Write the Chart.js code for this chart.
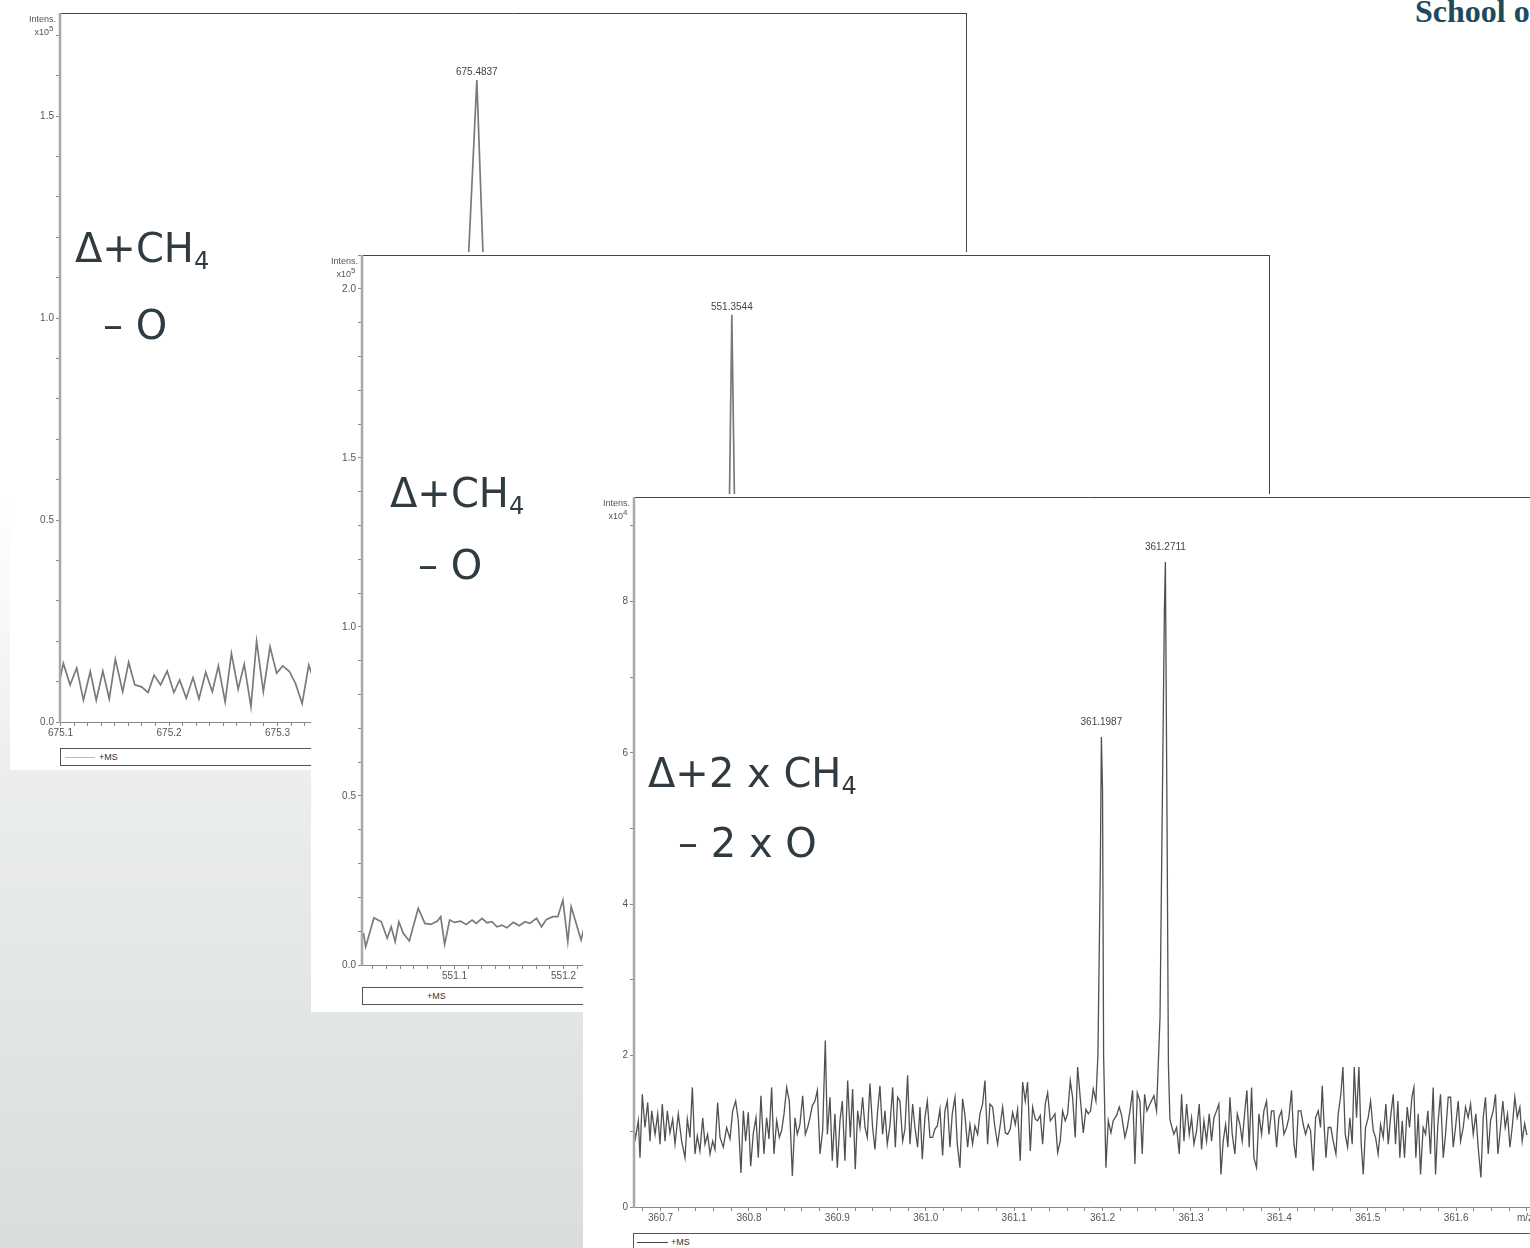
<!DOCTYPE html>
<html>
<head>
<meta charset="utf-8">
<script src="https://cdn.jsdelivr.net/npm/chart.js@4.4.0/dist/chart.umd.min.js"></script>
<style>
html, body { margin: 0; padding: 0; width: 1530px; height: 1248px; overflow: hidden; }
body {
  position: relative;
  background: linear-gradient(180deg, #ffffff 0%, #ffffff 40%, #eceeee 62%, #dadddd 100%);
  font-family: "Liberation Sans", Arial, sans-serif;
}
.card { position: absolute; background: #fff; overflow: hidden; }
.card canvas { position: absolute; left: 0; top: 0; }
.note {
  position: absolute; font-family: "DejaVu Sans", sans-serif; font-size: 40px;
  line-height: 1; color: #2f3b41; white-space: nowrap;
}
.note sub { font-size: 60%; vertical-align: baseline; position: relative; top: 0.3em; }
.leg {
  position: absolute; height: 16px; border: 1px solid #555; background: #fff;
  font-size: 9px; line-height: 16px; color: #333;
}
.leg i { position: absolute; top: 8px; height: 0; border-top: 1px solid #444; }
.leg span { position: absolute; top: 0; }
.mz { position: absolute; font-size: 10px; color: #555; }
.school {
  position: absolute; left: 1415px; top: -5px; font-family: "Liberation Serif", serif;
  font-weight: bold; font-size: 32px; line-height: 1; color: #1d4b5c; white-space: nowrap;
}
</style>
</head>
<body>

<div class="school">School of</div>

<div class="card" id="card1" style="left:10px;top:10px;width:958px;height:760px;">
  <canvas id="c1" width="958" height="760"></canvas>
  <div class="note" style="left:65px;top:218px;">&Delta;+CH<sub>4</sub></div>
  <div class="note" style="left:93px;top:295px;">&ndash; O</div>
  <div class="leg" style="left:50px;top:738px;width:900px;"><i style="left:4px;width:30px;border-color:#bbb;"></i><span style="left:38px;">+MS</span></div>
</div>

<div class="card" id="card2" style="left:311px;top:252px;width:960px;height:760px;">
  <canvas id="c2" width="960" height="760"></canvas>
  <div class="note" style="left:79px;top:221px;">&Delta;+CH<sub>4</sub></div>
  <div class="note" style="left:107px;top:293px;">&ndash; O</div>
  <div class="leg" style="left:51px;top:735px;width:900px;"><span style="left:64px;">+MS</span></div>
</div>

<div class="card" id="card3" style="left:583px;top:494px;width:963px;height:770px;">
  <canvas id="c3" width="963" height="770"></canvas>
  <div class="note" style="left:65px;top:259px;">&Delta;+2 x CH<sub>4</sub></div>
  <div class="note" style="left:95px;top:329px;">&ndash; 2 x O</div>
  <div class="mz" style="left:934px;top:718px;">m/z</div>
  <div class="leg" style="left:50px;top:739px;width:950px;"><i style="left:3px;width:31px;"></i><span style="left:37px;">+MS</span></div>
</div>

<script>
// spectrum 1: m/z 675 region, intensity x10^5
const p1Mz = [675.0980, 675.1026, 675.1088, 675.1149, 675.1211, 675.1274, 675.1329, 675.1390, 675.1449, 675.1505,
  675.1573, 675.1628, 675.1684, 675.1746, 675.1807, 675.1862, 675.1922, 675.1983, 675.2045, 675.2098,
  675.2159, 675.2221, 675.2276, 675.2338, 675.2399, 675.2455, 675.2517, 675.2575, 675.2637, 675.2693,
  675.2755, 675.2807, 675.2869, 675.2931, 675.2992, 675.3048, 675.3110, 675.3165, 675.3227, 675.3288,
  675.3350, 675.3410, 675.3470, 675.3530, 675.3590, 675.3650, 675.3710, 675.3770, 675.3830, 675.3890,
  675.3950, 675.4010, 675.4070, 675.4130, 675.4190, 675.4250, 675.4310, 675.4370, 675.4430, 675.4490,
  675.4550, 675.4610, 675.4660, 675.4700, 675.4760, 675.4837, 675.4895, 675.4960, 675.5020, 675.5080,
  675.5140, 675.5200, 675.5260, 675.5320, 675.5380, 675.5440];
const p1Int = [0.087, 0.145, 0.092, 0.134, 0.054, 0.125, 0.054, 0.126, 0.057, 0.155,
  0.075, 0.148, 0.092, 0.087, 0.073, 0.116, 0.092, 0.126, 0.073, 0.104,
  0.059, 0.110, 0.057, 0.123, 0.075, 0.139, 0.050, 0.170, 0.081, 0.143,
  0.038, 0.200, 0.075, 0.186, 0.121, 0.139, 0.125, 0.096, 0.046, 0.141,
  0.09, 0.15, 0.07, 0.13, 0.10, 0.16, 0.06, 0.12, 0.09, 0.14,
  0.08, 0.13, 0.11, 0.07, 0.15, 0.09, 0.12, 0.06, 0.14, 0.10,
  0.12, 0.08, 0.11, 0.15, 1.15, 1.589, 1.15, 0.14, 0.10, 0.13,
  0.08, 0.12, 0.09, 0.14, 0.07, 0.11];
const p1Peaks = [675.4837];

// spectrum 2: m/z 551 region, intensity x10^5
const p2Mz = [551.0164, 551.0185, 551.0261, 551.0328, 551.0382, 551.0419, 551.0455, 551.0489, 551.0530, 551.0585,
  551.0667, 551.0728, 551.0782, 551.0843, 551.0873, 551.0909, 551.0955, 551.1000, 551.1055, 551.1107,
  551.1161, 551.1200, 551.1252, 551.1297, 551.1343, 551.1389, 551.1434, 551.1479, 551.1539, 551.1594,
  551.1646, 551.1691, 551.1752, 551.1798, 551.1843, 551.1903, 551.1948, 551.1994, 551.2039, 551.2070,
  551.2116, 551.2161, 551.2206, 551.2260, 551.2320, 551.2380, 551.2440, 551.2500, 551.2560, 551.2620,
  551.2680, 551.2740, 551.2800, 551.2860, 551.2920, 551.2980, 551.3040, 551.3100, 551.3160, 551.3220,
  551.3280, 551.3340, 551.3400, 551.3460, 551.3480, 551.3515, 551.3544, 551.3580, 551.3640, 551.3700,
  551.3760, 551.3820, 551.3880];
const p2Int = [0.094, 0.054, 0.140, 0.128, 0.079, 0.113, 0.069, 0.128, 0.094, 0.071,
  0.168, 0.123, 0.120, 0.130, 0.143, 0.061, 0.133, 0.126, 0.130, 0.120,
  0.133, 0.123, 0.138, 0.125, 0.128, 0.113, 0.118, 0.110, 0.126, 0.116,
  0.128, 0.123, 0.138, 0.113, 0.135, 0.143, 0.143, 0.192, 0.069, 0.172,
  0.123, 0.074, 0.133, 0.10, 0.15, 0.08, 0.13, 0.11, 0.16, 0.07,
  0.12, 0.10, 0.14, 0.09, 0.13, 0.11, 0.08, 0.15, 0.10, 0.12,
  0.07, 0.13, 0.11, 0.09, 0.15, 1.20, 1.923, 1.10, 0.14, 0.10,
  0.12, 0.08, 0.13];
const p2Peaks = [551.3544];

// spectrum 3: m/z 361 region, intensity x10^4
const p3Mz = [360.6700, 360.6711, 360.6749, 360.6768, 360.6794, 360.6824, 360.6855, 360.6881, 360.6900, 360.6938,
  360.6968, 360.6994, 360.7020, 360.7051, 360.7077, 360.7107, 360.7137, 360.7164, 360.7201, 360.7239,
  360.7277, 360.7303, 360.7333, 360.7360, 360.7390, 360.7416, 360.7446, 360.7477, 360.7503, 360.7533,
  360.7560, 360.7590, 360.7616, 360.7646, 360.7673, 360.7710, 360.7748, 360.7786, 360.7816, 360.7850,
  360.7880, 360.7910, 360.7937, 360.7963, 360.7993, 360.8020, 360.8050, 360.8080, 360.8106, 360.8136,
  360.8170, 360.8200, 360.8227, 360.8257, 360.8283, 360.8314, 360.8344, 360.8370, 360.8397, 360.8427,
  360.8457, 360.8491, 360.8521, 360.8547, 360.8577, 360.8608, 360.8638, 360.8664, 360.8691, 360.8717,
  360.8747, 360.8774, 360.8804, 360.8834, 360.8864, 360.8887, 360.8917, 360.8943, 360.8973, 360.9000,
  360.9030, 360.9056, 360.9086, 360.9117, 360.9147, 360.9173, 360.9203, 360.9230, 360.9256, 360.9286,
  360.9313, 360.9339, 360.9369, 360.9399, 360.9426, 360.9456, 360.9482, 360.9512, 360.9539, 360.9565,
  360.9595, 360.9626, 360.9656, 360.9682, 360.9708, 360.9739, 360.9765, 360.9795, 360.9822, 360.9852,
  360.9878, 360.9908, 360.9935, 360.9961, 360.9991, 361.0018, 361.0048, 361.0078, 361.0104, 361.0131,
  361.0161, 361.0191, 361.0217, 361.0244, 361.0274, 361.0300, 361.0331, 361.0357, 361.0387, 361.0417,
  361.0444, 361.0474, 361.0500, 361.0530, 361.0557, 361.0587, 361.0613, 361.0643, 361.0670, 361.0700,
  361.0726, 361.0757, 361.0783, 361.0813, 361.0839, 361.0870, 361.0900, 361.0926, 361.0956, 361.0983,
  361.1013, 361.1039, 361.1069, 361.1096, 361.1126, 361.1152, 361.1183, 361.1209, 361.1239, 361.1265,
  361.1296, 361.1322, 361.1352, 361.1379, 361.1409, 361.1435, 361.1462, 361.1492, 361.1522, 361.1548,
  361.1578, 361.1605, 361.1635, 361.1661, 361.1691, 361.1718,
  361.1782, 361.1812, 361.1839, 361.1865, 361.1895, 361.1925, 361.1948, 361.1975, 361.1987, 361.2000,
  361.2012, 361.2038, 361.2065, 361.2095, 361.2121, 361.2159, 361.2189, 361.2216, 361.2253, 361.2280,
  361.2310, 361.2340, 361.2366, 361.2393, 361.2423, 361.2449, 361.2476, 361.2502, 361.2536, 361.2581,
  361.2611, 361.2650, 361.2700, 361.2711, 361.2730, 361.2745, 361.2762, 361.2781, 361.2807, 361.2838,
  361.2868, 361.2894, 361.2921, 361.2951, 361.2981, 361.3007, 361.3034, 361.3064, 361.3094, 361.3120,
  361.3147, 361.3177, 361.3207, 361.3233, 361.3260, 361.3290, 361.3316, 361.3339, 361.3365, 361.3392,
  361.3418, 361.3441, 361.3467, 361.3497, 361.3524, 361.3554, 361.3580, 361.3610, 361.3633, 361.3659,
  361.3686, 361.3712, 361.3742, 361.3769, 361.3799, 361.3825, 361.3855, 361.3882, 361.3912, 361.3938,
  361.3969, 361.3995, 361.4025, 361.4052, 361.4082, 361.4108, 361.4138, 361.4165, 361.4187, 361.4214,
  361.4244, 361.4270, 361.4297, 361.4327, 361.4353, 361.4383, 361.4410, 361.4440, 361.4466, 361.4485,
  361.4504, 361.4527, 361.4553, 361.4583, 361.4609, 361.4640, 361.4666, 361.4696, 361.4719, 361.4745,
  361.4772, 361.4798, 361.4824, 361.4847, 361.4873, 361.4900, 361.4926, 361.4949, 361.4975, 361.5005,
  361.5032, 361.5062, 361.5088, 361.5118, 361.5145, 361.5175, 361.5205, 361.5232, 361.5258, 361.5288,
  361.5314, 361.5341, 361.5363, 361.5390, 361.5416, 361.5446, 361.5473, 361.5499, 361.5522, 361.5544,
  361.5571, 361.5597, 361.5627, 361.5654, 361.5680, 361.5710, 361.5740, 361.5767, 361.5793, 361.5823,
  361.5854, 361.5880, 361.5910, 361.5937, 361.5967, 361.5993, 361.6023, 361.6050, 361.6080, 361.6106,
  361.6136, 361.6163, 361.6193, 361.6223, 361.6249, 361.6280, 361.6306, 361.6332, 361.6363, 361.6389,
  361.6419, 361.6445, 361.6472, 361.6502, 361.6528, 361.6555, 361.6581, 361.6608, 361.6634, 361.6664,
  361.6691, 361.6721, 361.6747, 361.6775, 361.6800];
const p3Int = [0.98, 0.87, 1.14, 0.65, 1.49, 1.05, 1.38, 0.87, 1.27, 0.96,
  1.23, 0.83, 1.36, 0.87, 1.27, 0.98, 1.16, 0.83, 1.23, 0.87,
  0.65, 1.16, 0.92, 1.58, 0.70, 0.94, 0.74, 1.18, 0.83, 0.96,
  0.70, 0.87, 0.76, 1.38, 0.92, 0.79, 1.05, 0.90, 1.27, 1.40,
  1.14, 0.45, 1.27, 0.87, 1.25, 0.54, 0.98, 1.18, 0.65, 1.47,
  0.70, 1.18, 0.90, 1.58, 0.70, 1.14, 0.92, 1.01, 1.23, 1.58,
  1.40, 0.41, 1.18, 0.96, 1.09, 1.47, 0.96, 1.05, 1.18, 1.34,
  1.40, 1.54, 0.70, 1.01, 2.20, 0.96, 1.45, 0.61, 1.23, 0.52,
  1.14, 1.40, 0.61, 1.67, 0.92, 1.56, 0.50, 1.27, 1.05, 1.45,
  1.05, 0.92, 1.63, 1.05, 0.76, 1.27, 1.60, 0.96, 1.27, 0.83,
  1.07, 1.58, 0.79, 1.45, 1.40, 0.87, 1.03, 1.74, 0.83, 1.36,
  1.05, 0.79, 1.32, 0.63, 1.18, 1.40, 0.92, 0.92, 1.03, 1.07,
  1.29, 0.68, 1.27, 1.40, 0.79, 1.23, 1.45, 0.83, 0.52, 1.43,
  1.21, 0.79, 1.09, 0.83, 1.07, 0.96, 1.23, 1.36, 1.67, 0.83,
  1.36, 1.32, 1.05, 0.83, 1.05, 1.32, 0.98, 0.96, 1.03, 1.25,
  1.09, 1.29, 0.61, 1.65, 1.40, 1.65, 0.74, 1.32, 1.16, 1.14,
  1.21, 0.83, 1.36, 1.51, 1.14, 1.18, 1.23, 0.72, 0.87, 1.27,
  1.14, 1.23, 1.67, 1.45, 0.92, 1.85,
  0.98, 1.29, 1.23, 1.27, 1.56, 1.40, 2.02, 4.50, 6.21, 5.50,
  2.00, 0.52, 1.14, 0.98, 1.14, 1.21, 1.32, 1.21, 0.92, 1.05,
  1.27, 1.54, 0.57, 1.51, 1.40, 0.70, 1.49, 1.27, 1.36, 1.47,
  1.27, 2.50, 7.90, 8.52, 5.00, 1.90, 1.16, 1.07, 0.96, 1.05,
  0.70, 1.49, 0.87, 1.36, 0.96, 1.18, 0.83, 1.01, 1.36, 0.76,
  1.14, 0.87, 1.23, 0.87, 1.18, 1.27, 1.36, 0.43, 0.87, 1.09,
  0.79, 1.45, 0.96, 0.70, 1.23, 1.09, 0.87, 1.27, 1.54, 0.79,
  1.58, 0.65, 0.52, 1.23, 0.96, 1.27, 1.40, 0.96, 1.27, 1.27,
  0.79, 1.18, 1.27, 0.96, 1.05, 1.18, 1.54, 0.83, 0.65, 1.27,
  1.27, 1.09, 0.96, 1.09, 1.01, 0.48, 1.18, 1.27, 1.05, 1.60,
  1.14, 0.65, 1.05, 1.05, 0.87, 0.70, 1.23, 1.49, 1.85, 0.96,
  0.79, 1.18, 0.83, 1.85, 1.18, 1.85, 0.83, 0.43, 1.05, 1.18,
  1.40, 1.01, 0.92, 0.70, 1.09, 0.92, 1.36, 0.83, 1.18, 1.49,
  0.83, 1.40, 0.65, 1.14, 0.65, 1.32, 1.05, 1.45, 1.58, 0.65,
  1.23, 0.43, 1.05, 0.96, 1.27, 0.70, 1.58, 0.43, 1.09, 1.49,
  0.65, 0.96, 1.45, 1.45, 0.79, 1.05, 1.40, 0.87, 1.05, 1.32,
  1.18, 1.36, 0.96, 1.23, 0.79, 0.39, 1.18, 1.45, 0.70, 1.14,
  1.27, 1.49, 0.70, 1.05, 1.40, 1.05, 1.23, 0.79, 1.05, 1.45,
  1.18, 1.32, 0.87, 1.10, 0.95];
const p3Peaks = [361.1987, 361.2711];

Chart.defaults.font.family = '"Liberation Sans", Arial, sans-serif';
Chart.defaults.font.size = 10;
Chart.defaults.color = '#555';

// frame, "Intens. x10^n" caption and peak labels
const spectrumDecor = {
  id: 'spectrumDecor',
  afterDatasetsDraw(chart, args, opts) {
    const ctx = chart.ctx, a = chart.chartArea;
    ctx.save();
    ctx.lineWidth = 1;
    ctx.strokeStyle = '#444';
    ctx.beginPath();
    ctx.moveTo(a.left, a.top + 0.5); ctx.lineTo(a.right, a.top + 0.5);
    ctx.moveTo(a.right - 0.5, a.top); ctx.lineTo(a.right - 0.5, a.bottom);
    ctx.stroke();
    ctx.strokeStyle = '#8a8a8a';
    ctx.beginPath();
    ctx.moveTo(a.left, a.bottom + 0.5); ctx.lineTo(a.right, a.bottom + 0.5);
    ctx.stroke();
    ctx.strokeStyle = '#a8a8a8';
    ctx.lineWidth = 2.5;
    ctx.beginPath();
    ctx.moveTo(a.left, a.top); ctx.lineTo(a.left, a.bottom + 1);
    ctx.stroke();

    ctx.fillStyle = '#555';
    ctx.textBaseline = 'middle';
    ctx.textAlign = 'right';
    ctx.font = '9px "Liberation Sans", Arial';
    ctx.fillText('Intens.', a.left - 4, a.top + 7);
    ctx.fillText('x10', a.left - 11, a.top + 20);
    ctx.textAlign = 'left';
    ctx.font = '8px "Liberation Sans", Arial';
    ctx.fillText(String(opts.exp), a.left - 11, a.top + 16);

    const xs = chart.scales.x, ys = chart.scales.y;
    const pts = chart.data.datasets[0].data;
    ctx.font = '10px "Liberation Sans", Arial';
    ctx.fillStyle = '#444';
    ctx.textAlign = 'center';
    ctx.textBaseline = 'bottom';
    opts.peaks.forEach(mz => {
      const p = pts.find(d => d.x === mz);
      ctx.fillText(mz.toFixed(4), xs.getPixelForValue(mz), ys.getPixelForValue(p.y) - opts.gap);
    });
    ctx.restore();
  }
};

function noPad(s) {
  s.paddingTop = 0; s.paddingBottom = 0; s.paddingLeft = 0; s.paddingRight = 0;
}

function makeSpectrum(id, mz, inten, o) {
  const data = mz.map((x, i) => ({ x: x, y: inten[i] }));
  return new Chart(document.getElementById(id), {
    type: 'line',
    data: { datasets: [{ data: data, borderColor: o.color, borderWidth: o.lw, pointRadius: 0, tension: 0, fill: false }] },
    options: {
      responsive: false, animation: false, devicePixelRatio: 1,
      layout: { padding: { left: 0, top: 3, right: 1, bottom: 0 } },
      plugins: { legend: { display: false }, tooltip: { enabled: false },
        spectrumDecor: { exp: o.exp, peaks: o.peaks, gap: o.gap } },
      scales: {
        x: {
          type: 'linear', min: o.xMin, max: o.xMax,
          border: { display: false },
          grid: { drawOnChartArea: false, drawTicks: true, tickLength: 4, tickColor: '#888' },
          ticks: {
            stepSize: o.xStep, autoSkip: false, maxRotation: 0, includeBounds: false, padding: 1,
            callback: v => (Math.abs(v * 10 - Math.round(v * 10)) < 1e-6 && v < o.xMax - 0.03) ? v.toFixed(1) : ''
          },
          afterFit: s => { s.height = o.xH; noPad(s); }
        },
        y: {
          min: 0, max: o.yMax,
          border: { display: false },
          grid: { drawOnChartArea: false, drawTicks: true, tickLength: 4, tickColor: '#888' },
          ticks: {
            stepSize: o.yStep, autoSkip: false, includeBounds: false, padding: 2,
            callback: v => (Math.abs(v / o.yLab - Math.round(v / o.yLab)) < 1e-6) ? v.toFixed(o.yDec) : ''
          },
          afterFit: s => { s.width = o.yW; noPad(s); }
        }
      }
    },
    plugins: [spectrumDecor]
  });
}

makeSpectrum('c1', p1Mz, p1Int, { xMin: 675.0995, xMax: 675.9355, xStep: 0.0125, yMax: 1.755, yStep: 0.1, yLab: 0.5, yDec: 1,
  xH: 48, yW: 50, exp: 5, peaks: p1Peaks, gap: 3, color: '#7a7a7a', lw: 1.7 });
makeSpectrum('c2', p2Mz, p2Int, { xMin: 551.0151, xMax: 551.8481, xStep: 0.0125, yMax: 2.1, yStep: 0.1, yLab: 0.5, yDec: 1,
  xH: 47, yW: 51, exp: 5, peaks: p2Peaks, gap: 3, color: '#7a7a7a', lw: 1.7 });
makeSpectrum('c3', p3Mz, p3Int, { xMin: 360.670, xMax: 361.7005, xStep: 0.02, yMax: 9.38, yStep: 1, yLab: 2, yDec: 0,
  xH: 57, yW: 51, exp: 4, peaks: p3Peaks, gap: 10, color: '#505050', lw: 1.3 });
</script>
</body>
</html>
